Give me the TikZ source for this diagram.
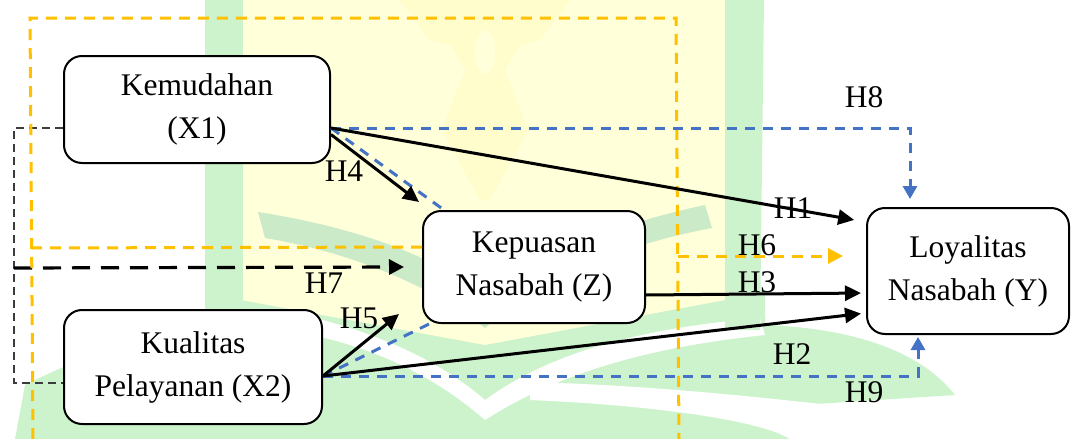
\documentclass[tikz,border=0pt]{standalone}
\usepackage{fontspec}
\setmainfont{Liberation Serif}
\usetikzlibrary{arrows.meta,calc}

\definecolor{pathblue}{RGB}{68,114,196}
\definecolor{pathorange}{RGB}{255,192,0}
\definecolor{wmgreen}{RGB}{205,243,205}
\definecolor{wmgreendark}{RGB}{203,234,199}
\definecolor{wmyellow}{RGB}{255,255,217}
\definecolor{wmyellowdark}{RGB}{255,253,204}
\definecolor{bracketgray}{RGB}{60,60,60}

\tikzset{
  varbox/.style={draw=black, line width=2pt, rounded corners=18pt, fill=white,
    align=center, inner sep=0pt, font=\fontsize{31.5}{43}\selectfont},
  hlabel/.style={font=\fontsize{31.5}{38}\selectfont, inner sep=0pt},
  direct/.style={line width=3pt, -{Triangle[length=16pt,width=15pt]}},
  mediate/.style={pathblue, line width=3pt, dash pattern=on 10pt off 8pt},
  mediatearrow/.style={mediate, -{Triangle[length=13pt,width=14pt]}},
  moderate/.style={pathorange, line width=3pt, dash pattern=on 11pt off 8pt},
  moderatearrow/.style={moderate, -{Triangle[length=15pt,width=15pt]}},
  simul/.style={line width=3.2pt, dash pattern=on 18pt off 11pt, -{Triangle[length=15pt,width=15pt]}},
  bracket/.style={bracketgray, line width=1.5pt, dash pattern=on 8pt off 5pt},
}

\begin{document}
\begin{tikzpicture}[x=1pt,y=-1pt]
\useasboundingbox (0,0) rectangle (1072,439);

% faint emblem in the background
\fill[wmgreen] (205,290) -- (765,290) -- (765,325) .. controls (850,328) and (920,350) .. (955,395)
  -- (800,405) -- (790,439) -- (15,439) -- (25,385) .. controls (90,352) and (150,335) .. (205,330) -- cycle;
\fill[white] (315,318) .. controls (400,340) and (450,370) .. (485,400) .. controls (540,360) and (620,330) .. (760,318)
  -- (765,335) .. controls (620,350) and (540,385) .. (485,420) .. controls (445,385) and (390,352) .. (312,335) -- cycle;
\fill[white] (530,382) .. controls (640,385) and (740,395) .. (830,405) -- (830,439) -- (790,439)
  .. controls (760,420) and (650,405) .. (530,400) -- cycle;
\fill[wmyellow] (241,0) -- (725,0) -- (725,300) -- (485,345) -- (241,300) -- cycle;
\fill[wmyellowdark] (400,0) -- (570,0) -- (540,40) -- (520,45) -- (505,70) -- (528,130) -- (490,200)
  -- (480,200) -- (442,130) -- (465,70) -- (450,45) -- (430,40) -- cycle;
\fill[wmyellow] (485,52) ellipse (10pt and 22pt);
\fill[wmgreen] (205,0) -- (243,0) -- (243,300) -- (205,300) -- cycle;
\fill[wmgreen] (725,0) -- (764,0) -- (760,330) -- (725,330) -- cycle;
\fill[wmgreendark] (258,212) .. controls (360,228) and (440,258) .. (485,298)
  .. controls (530,260) and (610,225) .. (705,205) -- (712,228)
  .. controls (620,245) and (540,280) .. (485,328)
  .. controls (430,285) and (350,252) .. (265,238) -- cycle;

% variables
\node[varbox, minimum width=266pt, minimum height=107pt] (X1) at (197,109.5) {Kemudahan\\(X1)};
\node[varbox, minimum width=258pt, minimum height=114pt] (X2) at (193,367) {Kualitas\\Pelayanan (X2)};
\node[varbox, minimum width=222pt, minimum height=112pt] (Z) at (534,267) {Kepuasan\\Nasabah (Z)};
\node[varbox, minimum width=202pt, minimum height=126pt] (Y) at (968,271) {Loyalitas\\Nasabah (Y)};

% connection points
\coordinate (x1out) at ([yshift=-18.5pt]X1.east);
\coordinate (x1low) at ([yshift=-25pt]X1.east);
\coordinate (x2out) at ([yshift=-9pt]X2.east);
\coordinate (bracketmid) at (14,268);
\coordinate (ortl) at (30,18);
\coordinate (ortr) at (676,18);
\coordinate (orbl) at (33,439);
\coordinate (orbr) at (679,439);
\coordinate (orleft) at (32,248);
\coordinate (orright) at (678,256);

% joint effect of X1 and X2
\draw[bracket] ([yshift=-18.5pt]X1.west) -| (bracketmid) |- ([yshift=-16pt]X2.west);
\draw[simul] (bracketmid) -- ([xshift=-18pt]Z.west);

% moderation frame
\draw[moderate] (orbl) -- (ortl) -- (ortr) -- (orbr);
\draw[moderate] ([yshift=20pt]Z.west) -- (orleft);
\draw[moderatearrow, shorten >=23pt] (orright) -- ([yshift=15pt]Y.west);

% mediation paths
\draw[mediate] (x1out) -- ([xshift=22pt]Z.north west);
\draw[mediatearrow] (x1out) -| ([xshift=-58pt,yshift=8pt]Y.north);
\draw[mediate] (x2out) -- ([xshift=7pt]Z.south west);
\draw[mediatearrow] (x2out) -| ([xshift=-50pt,yshift=-2pt]Y.south);

% direct paths
\draw[direct, shorten >=12pt] (x1out) -- ([yshift=49pt]Y.west);
\draw[direct] (x1low) -- ([xshift=-3pt,yshift=8pt]Z.north west);
\draw[direct, shorten >=5pt] ([yshift=-28pt]Z.east) -- ([yshift=-22pt]Y.west);
\draw[direct, shorten >=5pt] (x2out) -- ([yshift=-42pt]Y.west);
\draw[direct] (x2out) -- ([xshift=-23pt,yshift=10pt]Z.south west);

% hypothesis labels
\node[hlabel] (lH1) at (793,208) {H1};
\node[hlabel] (lH2) at (792,354) {H2};
\node[hlabel] (lH3) at (757,282) {H3};
\node[hlabel] (lH4) at (344,171) {H4};
\node[hlabel] (lH5) at (359,318) {H5};
\node[hlabel] (lH6) at (757,245) {H6};
\node[hlabel] (lH7) at (324,283) {H7};
\node[hlabel] (lH8) at (864,97) {H8};
\node[hlabel] (lH9) at (864,392) {H9};
\end{tikzpicture}
\end{document}
